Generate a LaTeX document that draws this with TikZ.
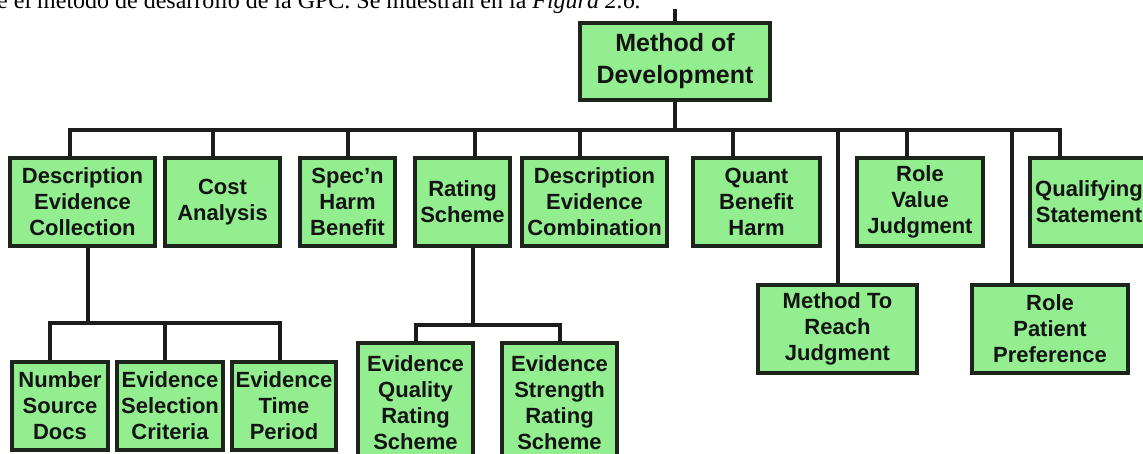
\documentclass[tikz,border=0pt]{standalone}
\usepackage{fontspec}
\setmainfont{Liberation Sans}
\newfontfamily\leadserif{Liberation Serif}
\definecolor{boxfill}{RGB}{146,238,142}
\definecolor{boxline}{RGB}{28,36,28}
\definecolor{wireline}{RGB}{28,28,28}
\begin{document}
\begin{tikzpicture}[x=1pt,y=-1pt,
  box/.style={draw=boxline, fill=boxfill, line width=3.2pt, inner sep=0pt,
    align=center, text=black!92, font=\bfseries\fontsize{22}{26}\selectfont},
  wire/.style={draw=wireline, line width=3.2pt}]
\useasboundingbox (0,0) rectangle (1143,453);
\clip (0,0) rectangle (1143,453);
\fill[white] (0,0) rectangle (1143,453);

% running text line above the chart, cut by the page edge
\node[anchor=base west, inner sep=0pt, font=\leadserif\fontsize{24}{28}\selectfont] (lead)
  at (-3,8) {e el método de desarrollo de la GPC. Se muestran en la \textit{Figura 2.6.}};

% root
\node[box, minimum width=190, minimum height=77, font=\bfseries\fontsize{25}{32}\selectfont]
  (root) at (675,61.5) {Method of\\Development};

% first level
\node[box, minimum width=145, minimum height=88] (dec)   at (82.5,202)  {Description\\Evidence\\Collection};
\node[box, minimum width=115, minimum height=88] (cost)  at (222.5,202) {Cost\\Analysis};
\node[box, minimum width=95,  minimum height=88] (spec)  at (347.5,202) {Spec’n\\Harm\\Benefit};
\node[box, minimum width=95,  minimum height=88] (rat)   at (462.5,202) {Rating\\Scheme};
\node[box, minimum width=145, minimum height=88] (dcomb) at (594.5,202) {Description\\Evidence\\Combination};
\node[box, minimum width=127, minimum height=88] (quant) at (756.5,202) {Quant\\Benefit\\Harm};
\node[box, minimum width=126, minimum height=88] (rvj)   at (920,202)   {Role\\Value\\Judgment};
\node[box, minimum width=118, minimum height=88] (qual)  at (1089,202)  {Qualifying\\Statement};

% hanging second-level boxes on the main bus
\node[box, minimum width=159, minimum height=88] (mrj) at (837.5,329) {Method To\\Reach\\Judgment};
\node[box, minimum width=156, minimum height=88] (rpp) at (1050,329)  {Role\\Patient\\Preference};

% children of the evidence collection box
\node[box, minimum width=96,  minimum height=88] (nsd) at (60,406)  {Number\\Source\\Docs};
\node[box, minimum width=106, minimum height=88] (esc) at (170,406) {Evidence\\Selection\\Criteria};
\node[box, minimum width=104, minimum height=88] (etp) at (284,406) {Evidence\\Time\\Period};

% children of the rating scheme box
\node[box, minimum width=115, minimum height=120] (eqrs) at (415.5,403) {Evidence\\Quality\\Rating\\Scheme};
\node[box, minimum width=115, minimum height=120] (esrs) at (559.5,403) {Evidence\\Strength\\Rating\\Scheme};

% main bus
\coordinate (rtop) at (675,9);
\coordinate (rbus) at (675,130);
\coordinate (b1) at (70,130);
\coordinate (b2) at (213,130);
\coordinate (b3) at (348,130);
\coordinate (b4) at (475,130);
\coordinate (b5) at (580,130);
\coordinate (b6) at (733,130);
\coordinate (b7) at (907,130);
\coordinate (b8) at (1060,130);
\coordinate (b9) at (838,130);
\coordinate (b10) at (1012,130);

\draw[wire] (rtop) -- (root.north);
\draw[wire] (root.south) -- (rbus);
\draw[wire] (b1 |- dec.north) -- (b1) -- (b8) [rounded corners=5pt] -- (b8 |- qual.north);
\foreach \b/\n in {b2/cost, b3/spec, b4/rat, b5/dcomb, b6/quant, b7/rvj, b9/mrj, b10/rpp}
  \draw[wire] (\b) -- (\b |- \n.north);

% evidence collection sub-bus
\coordinate (j1) at (88,323);
\coordinate (c1) at (50,323);
\coordinate (c2) at (165,323);
\coordinate (c3) at (280,323);
\draw[wire] (j1 |- dec.south) -- (j1);
\draw[wire] (c1 |- nsd.north) -- (c1) -- (c3) -- (c3 |- etp.north);
\draw[wire] (c2) -- (c2 |- esc.north);

% rating scheme sub-bus
\coordinate (j2) at (473,325);
\coordinate (d1) at (416,325);
\coordinate (d2) at (560,325);
\draw[wire] (j2 |- rat.south) -- (j2);
\draw[wire] (d1 |- eqrs.north) -- (d1) -- (d2) -- (d2 |- esrs.north);
\end{tikzpicture}
\end{document}
